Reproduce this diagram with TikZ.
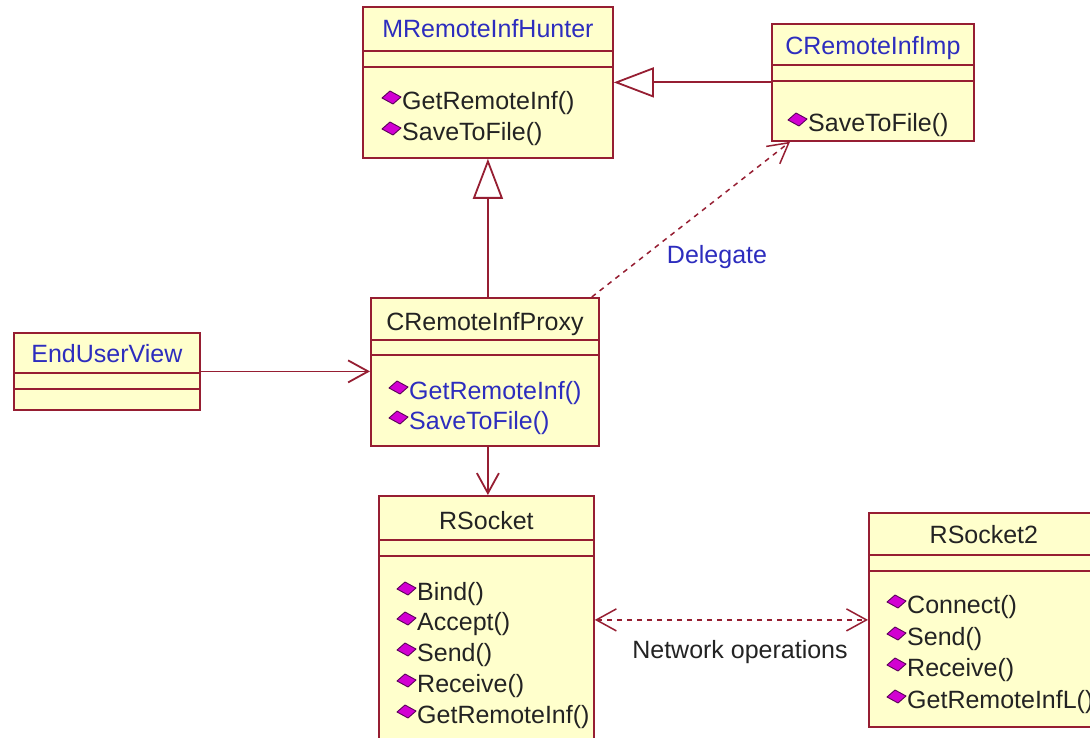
\documentclass[tikz,border=0pt]{standalone}
\usepackage{fontspec}
\setmainfont{Liberation Sans}
\usepackage{tikz}
\usetikzlibrary{arrows.meta}
\definecolor{umlred}{RGB}{150, 30, 50}
\definecolor{umlyellow}{RGB}{255, 255, 204}
\definecolor{umlblue}{RGB}{45, 45, 190}
\definecolor{umlink}{RGB}{35, 35, 35}
\definecolor{opmagenta}{RGB}{210, 0, 210}
\definecolor{opedge}{RGB}{90, 0, 90}

\newcommand{\opmark}[1]{%
  \filldraw[opmark] ([shift={(-20,-5)}]#1.west) -- ++(8,-7) -- ++(11,6) -- ++(-8,7) -- cycle;}

\tikzset{
  classbox/.style={draw=umlred, fill=umlyellow, line width=1.8pt, rectangle, anchor=north west, inner sep=0pt},
  classname/.style={text=umlink, inner sep=0pt, text height=18pt, text depth=5pt},
  method/.style={text=umlink, anchor=west, inner sep=0pt, text height=18pt, text depth=5pt},
  sepline/.style={draw=umlred, line width=1.8pt},
  opmark/.style={fill=opmagenta, draw=opedge, line width=0.9pt, line join=round},
  realize/.style={draw=umlred, line width=1.8pt, -{Triangle[open, fill=white, length=40pt, width=30pt]}},
  assoc/.style={draw=umlred, line width=1.8pt, -{Straight Barb[length=20pt, width=22pt]}},
  depend/.style={draw=umlred, line width=1.5pt, dash pattern=on 5pt off 5pt, -{Straight Barb[length=20pt, width=22pt]}},
  linklabel/.style={text=umlink, inner sep=0pt}
}

\begin{document}
\begin{tikzpicture}[x=1pt, y=-1pt, font=\fontsize{25}{30}\selectfont]
        \useasboundingbox (0,0) rectangle (1090,738);
        \clip (0,0) rectangle (1090,738);
        \fill[white] (0,0) rectangle (1090,738);

        \coordinate (c1) at (362,6);
        \coordinate (c2) at (771,23);
        \coordinate (c3) at (13,332);
        \coordinate (c4) at (370,297);
        \coordinate (c5) at (378,495);
        \coordinate (c6) at (868,512);

        % class boxes
        \node[classbox, minimum width=250pt, minimum height=151pt] (hunter) at (c1) {};
        \node[classbox, minimum width=202pt, minimum height=117pt] (imp) at (c2) {};
        \node[classbox, minimum width=186pt, minimum height=77pt] (enduser) at (c3) {};
        \node[classbox, minimum width=228pt, minimum height=148pt] (proxy) at (c4) {};
        \node[classbox, minimum width=215pt, minimum height=248pt] (rsocket) at (c5) {};
        \node[classbox, minimum width=230pt, minimum height=214pt] (rsocket2) at (c6) {};

        % compartments
        \draw[sepline] ([yshift=-45pt]hunter.north west) -- ([yshift=-45pt]hunter.north east);
        \draw[sepline] ([yshift=-61pt]hunter.north west) -- ([yshift=-61pt]hunter.north east);
        \draw[sepline] ([yshift=-42pt]imp.north west) -- ([yshift=-42pt]imp.north east);
        \draw[sepline] ([yshift=-58pt]imp.north west) -- ([yshift=-58pt]imp.north east);
        \draw[sepline] ([yshift=-41pt]enduser.north west) -- ([yshift=-41pt]enduser.north east);
        \draw[sepline] ([yshift=-57pt]enduser.north west) -- ([yshift=-57pt]enduser.north east);
        \draw[sepline] ([yshift=-43pt]proxy.north west) -- ([yshift=-43pt]proxy.north east);
        \draw[sepline] ([yshift=-58pt]proxy.north west) -- ([yshift=-58pt]proxy.north east);
        \draw[sepline] ([yshift=-45pt]rsocket.north west) -- ([yshift=-45pt]rsocket.north east);
        \draw[sepline] ([yshift=-61pt]rsocket.north west) -- ([yshift=-61pt]rsocket.north east);
        \draw[sepline] ([yshift=-43pt]rsocket2.north west) -- ([yshift=-43pt]rsocket2.north east);
        \draw[sepline] ([yshift=-59pt]rsocket2.north west) -- ([yshift=-59pt]rsocket2.north east);

        % class names
        \node[classname, text=umlblue] (hunterName) at ([yshift=-25pt]hunter.north) {MRemoteInfHunter};
        \node[classname, text=umlblue] (impName) at ([yshift=-25pt]imp.north) {CRemoteInfImp};
        \node[classname, text=umlblue] (enduserName) at ([yshift=-24pt]enduser.north) {EndUserView};
        \node[classname] (proxyName) at ([yshift=-27pt]proxy.north) {CRemoteInfProxy};
        \node[classname] (rsocketName) at ([yshift=-28pt]rsocket.north) {RSocket};
        \node[classname] (rsocket2Name) at ([yshift=-25pt]rsocket2.north) {RSocket2};

        % operations
        \node[method] (hunterGet) at (402,103) {GetRemoteInf()};
        \node[method] (hunterSave) at (402,134) {SaveToFile()};
        \node[method] (impSave) at (808,125) {SaveToFile()};
        \node[method, text=umlblue] (proxyGet) at (409,393) {GetRemoteInf()};
        \node[method, text=umlblue] (proxySave) at (409,423) {SaveToFile()};
        \node[method] (rsBind) at (417,594) {Bind()};
        \node[method] (rsAccept) at (417,624) {Accept()};
        \node[method] (rsSend) at (417,655) {Send()};
        \node[method] (rsReceive) at (417,686) {Receive()};
        \node[method] (rsGet) at (417,717) {GetRemoteInf()};
        \node[method] (rs2Connect) at (907,607) {Connect()};
        \node[method] (rs2Send) at (907,639) {Send()};
        \node[method] (rs2Receive) at (907,670) {Receive()};
        \node[method] (rs2Get) at (907,702) {GetRemoteInfL()};

        \opmark{hunterGet} \opmark{hunterSave} \opmark{impSave}
        \opmark{proxyGet} \opmark{proxySave}
        \opmark{rsBind} \opmark{rsAccept} \opmark{rsSend} \opmark{rsReceive} \opmark{rsGet}
        \opmark{rs2Connect} \opmark{rs2Send} \opmark{rs2Receive} \opmark{rs2Get}

        % relations
        \draw[realize] (imp.west) -- (imp.west -| hunter.east);
        \draw[realize] ([xshift=3pt]proxy.north) -- ([xshift=3pt]proxy.north |- hunter.south);
        \draw[assoc] (enduser.east) -- (enduser.east -| proxy.west);
        \draw[assoc] ([xshift=3pt]proxy.south) -- ([xshift=3pt]proxy.south |- rsocket.north);
        \draw[depend] ([xshift=-8pt]proxy.north east) -- ([xshift=19pt]imp.south west);
        \draw[depend, {Straight Barb[length=20pt, width=22pt]}-{Straight Barb[length=20pt, width=22pt]}] (rsocket.east) -- (rsocket2.west);

        \node[linklabel, text=umlblue] (delegateLabel) at (717,257) {Delegate};
        \node[linklabel] (networkLabel) at (740,652) {Network operations};
    \end{tikzpicture}
\end{document}
